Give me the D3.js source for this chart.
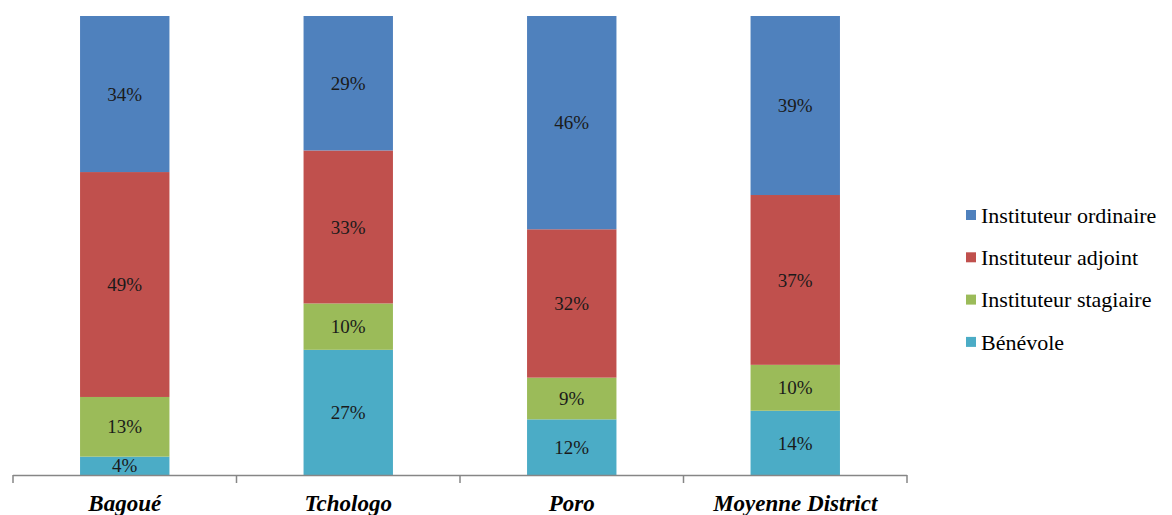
<!DOCTYPE html>
<html>
<head>
<meta charset="utf-8">
<script src="https://cdn.jsdelivr.net/npm/d3@7"></script>
<style>
  html, body { margin: 0; padding: 0; background: #fff; }
  svg { display: block; }
  svg text { font-family: "Liberation Serif", "Times New Roman", Tinos, "DejaVu Serif", serif; }
</style>
</head>
<body>
<svg id="chart" width="1172" height="515"></svg>
<script>
// Regions and teacher-status shares (percent)
const categories = ["Bagoué", "Tchologo", "Poro", "Moyenne District"];
const seriesNames = ["Bénévole", "Instituteur stagiaire", "Instituteur adjoint", "Instituteur ordinaire"];
const benevole = [4, 27, 12, 14];
const stagiaire = [13, 10, 9, 10];
const adjoint = [49, 33, 32, 37];
const ordinaire = [34, 29, 46, 39];
const seriesColors = ["#4BACC6", "#9BBB59", "#C0504D", "#4F81BD"];

const seriesValues = [benevole, stagiaire, adjoint, ordinaire];
const rows = categories.map((c, i) => {
  const r = { category: c };
  seriesNames.forEach((s, k) => { r[s] = seriesValues[k][i]; });
  return r;
});

const svg = d3.select("#chart");
const plot = { left: 13, right: 907, top: 16, bottom: 475 };

const x = d3.scaleBand()
  .domain(categories)
  .range([plot.left, plot.right])
  .paddingInner(0.6)
  .paddingOuter(0.3);

const y = d3.scaleLinear().domain([0, 1]).range([plot.bottom, plot.top]);

// 100% stacked: each column fills the full height
const stack = d3.stack().keys(seriesNames).offset(d3.stackOffsetExpand);
const layers = stack(rows);

const color = d3.scaleOrdinal().domain(seriesNames).range(seriesColors);

const g = svg.append("g");
layers.forEach(layer => {
  const lg = g.append("g");
  lg.selectAll("rect")
    .data(layer)
    .join("rect")
    .attr("x", d => x(d.data.category))
    .attr("width", x.bandwidth())
    .attr("y", d => y(d[1]))
    .attr("height", d => y(d[0]) - y(d[1]))
    .attr("fill", color(layer.key));
  lg.selectAll("text")
    .data(layer)
    .join("text")
    .attr("x", d => x(d.data.category) + x.bandwidth() / 2)
    .attr("y", d => (y(d[0]) + y(d[1])) / 2)
    .attr("dy", "0.35em")
    .attr("text-anchor", "middle")
    .attr("font-size", 19)
    .attr("fill", "#1a1a1a")
    .text(d => d.data[layer.key] + "%");
});

// Category axis with ticks between bands
const axisColor = "#868686";
const axis = svg.append("g");
axis.append("line")
  .attr("x1", plot.left).attr("x2", plot.right)
  .attr("y1", plot.bottom + 0.5).attr("y2", plot.bottom + 0.5)
  .attr("stroke", axisColor).attr("stroke-width", 1.5);
const tickXs = d3.range(categories.length + 1).map(i => plot.left + (plot.right - plot.left) * i / categories.length);
axis.selectAll("line.tick")
  .data(tickXs)
  .join("line")
  .attr("class", "tick")
  .attr("x1", d => d).attr("x2", d => d)
  .attr("y1", plot.bottom).attr("y2", plot.bottom + 8)
  .attr("stroke", axisColor).attr("stroke-width", 1.5);
axis.selectAll("text")
  .data(categories)
  .join("text")
  .attr("x", d => x(d) + x.bandwidth() / 2)
  .attr("y", 511)
  .attr("text-anchor", "middle")
  .attr("font-size", 23)
  .attr("font-weight", "bold")
  .attr("font-style", "italic")
  .attr("fill", "#000")
  .text(d => d);

// Legend (top series first)
const legendItems = seriesNames.slice().reverse();
const legend = svg.append("g").attr("transform", "translate(966,215)");
const li = legend.selectAll("g")
  .data(legendItems)
  .join("g")
  .attr("transform", (d, i) => `translate(0,${i * 42.3})`);
li.append("rect")
  .attr("x", 0).attr("y", -5)
  .attr("width", 10).attr("height", 10)
  .attr("fill", d => color(d));
li.append("text")
  .attr("x", 15)
  .attr("y", 0)
  .attr("dy", "0.35em")
  .attr("font-size", 22)
  .attr("fill", "#000")
  .text(d => d);
</script>
</body>
</html>
